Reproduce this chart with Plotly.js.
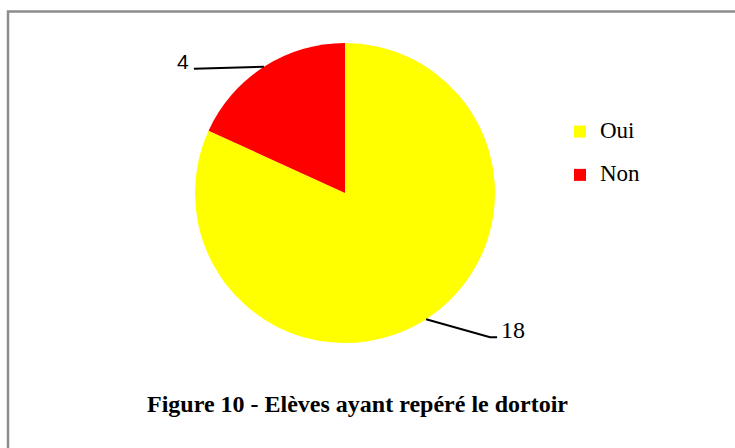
<!DOCTYPE html>
<html>
<head>
<meta charset="utf-8">
<script src="https://cdn.plot.ly/plotly-3.0.1.min.js"></script>
<style>html,body{margin:0;padding:0;background:#fff;}#chart{width:735px;height:448px;}</style>
</head>
<body>
<div id="chart"></div>
<script>
const categories = ['Oui', 'Non'];
const values = [18, 4];
const colors = ['#FFFF00', '#FF0000'];
const titleText = 'Figure 10 - Elèves ayant repéré le dortoir';

const W = 735, H = 448;
const cx = 345, cy = 193, R = 150;
const px = x => x / W;
const py = y => 1 - y / H;
const SERIF = '"Liberation Serif", "Times New Roman", serif';

const total = values.reduce((a, b) => a + b, 0);
const shapes = [{
  type: 'rect', xref: 'paper', yref: 'paper',
  x0: px(8), x1: px(760), y0: py(11.5), y1: py(480),
  line: {color: '#8c8c8c', width: 2.5}, fillcolor: 'rgba(0,0,0,0)'
}];
const annotations = [];
let acc = 0;
values.forEach((v, i) => {
  const mid = (acc + v / 2) / total * 2 * Math.PI;
  acc += v;
  const ex = cx + R * Math.sin(mid), ey = cy - R * Math.cos(mid);
  const right = Math.sin(mid) >= 0;
  let path, ax, ay, anchor, fam;
  if (right) {
    const bx = ex + 64, by = ey + 18;
    path = `M${px(ex)},${py(ey)} L${px(bx)},${py(by)} L${px(bx + 7)},${py(by)}`;
    ax = bx + 9; ay = by - 7; anchor = 'left';
    fam = SERIF;
  } else {
    const bx = ex - 70, by = ey + 2;
    path = `M${px(ex)},${py(ey)} L${px(bx)},${py(by)}`;
    ax = bx - 3; ay = by - 7; anchor = 'right';
    fam = '"Liberation Sans", Arial, sans-serif';
  }
  shapes.push({type: 'path', xref: 'paper', yref: 'paper', path: path,
    line: {color: '#000', width: 2}});
  annotations.push({xref: 'paper', yref: 'paper', x: px(ax), y: py(ay),
    xanchor: anchor, yanchor: 'middle', showarrow: false, text: String(v),
    font: {family: fam, size: anchor === 'left' ? 24 : 21, color: '#000'}});
});

annotations.push({xref: 'paper', yref: 'paper', x: px(357), y: py(404),
  xanchor: 'center', yanchor: 'middle', showarrow: false, text: '<b>' + titleText + '</b>',
  font: {family: SERIF, size: 24, color: '#000'}});

const legendLabels = categories.map(c => `<span style="font-size:23px">${c}</span><br> `);

const trace = {
  type: 'pie', labels: legendLabels, values: values, sort: false,
  direction: 'clockwise', rotation: 0,
  marker: {colors: colors, line: {width: 0}},
  textinfo: 'none', hoverinfo: 'value',
  domain: {x: [px(cx - R), px(cx + R)], y: [py(cy + R), py(cy - R)]}
};

const layout = {
  width: W, height: H, margin: {l: 0, r: 0, t: 0, b: 0},
  paper_bgcolor: '#fff', showlegend: true,
  legend: {x: px(560), y: py(115), xanchor: 'left', yanchor: 'top', valign: 'top',
    font: {family: SERIF, size: 15.5, color: '#000'},
    bgcolor: 'rgba(0,0,0,0)', traceorder: 'normal'},
  shapes: shapes, annotations: annotations
};
Plotly.newPlot('chart', [trace], layout, {displayModeBar: false, staticPlot: true});
</script>
</body>
</html>
